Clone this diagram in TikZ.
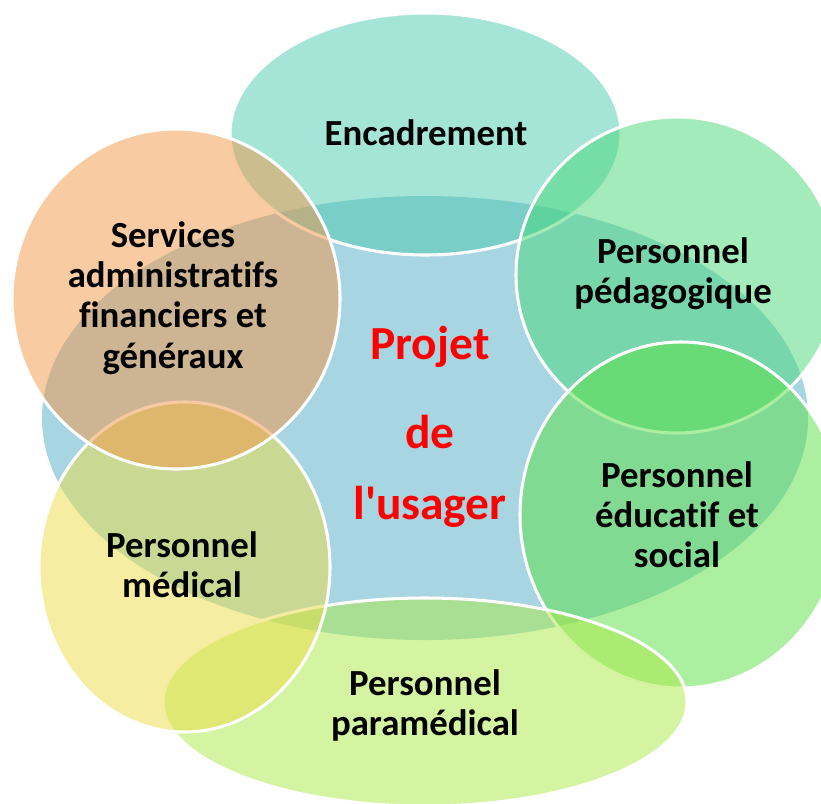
\documentclass[tikz,border=0pt]{standalone}
\usepackage{fontspec}
\setmainfont{Carlito}[Ligatures={NoCommon}]
\newcommand{\stackedlabel}[1]{\begin{tabular}[t]{@{}c@{}}#1\end{tabular}}
\definecolor{hubblue}{HTML}{A8D5E2}
\definecolor{encteal}{HTML}{4BCBAF}
\definecolor{pedgreen}{HTML}{47D777}
\definecolor{edugreen}{HTML}{5BDF41}
\definecolor{paralime}{HTML}{A9E945}
\definecolor{medyellow}{HTML}{EBDD45}
\definecolor{servorange}{HTML}{F39747}
\definecolor{titlered}{HTML}{FF0000}
\tikzset{
  petal/.style={draw=white, line width=2.6pt, fill opacity=0.5, draw opacity=1},
  lbl/.style={anchor=base, inner sep=0pt, text=black,
    font=\fontsize{31.4pt}{34.5pt}\selectfont\bfseries},
  hublbl/.style={anchor=base, inner sep=0pt, text=titlered,
    font=\fontsize{40.5pt}{61pt}\selectfont\bfseries}
}
\begin{document}
\begin{tikzpicture}[x=0.03cm, y=-0.03cm]
  \useasboundingbox (0,0) rectangle (821,803);
  \clip (0,0) rectangle (821,803);
  % central ellipse
  \fill[hubblue] (425,418) ellipse [x radius=11.49cm, y radius=6.66cm];
  % surrounding circles, drawn in stacking order
  \draw[petal, fill=encteal]    (425.5,134) ellipse [x radius=5.865cm, y radius=3.63cm];
  \draw[petal, fill=pedgreen]   (677,275)   ellipse [x radius=4.83cm,  y radius=4.74cm];
  \draw[petal, fill=edugreen]   (681,515)   ellipse [x radius=4.83cm,  y radius=5.19cm];
  \draw[petal, fill=paralime]   (425,702)   ellipse [x radius=7.86cm,  y radius=3.12cm];
  \draw[petal, fill=medyellow]  (184.5,567) ellipse [x radius=4.365cm, y radius=4.95cm];
  \draw[petal, fill=servorange] (176,299)   ellipse [x radius=4.92cm,  y radius=5.1cm];
  % labels
  \node[lbl] (enc)  at (426,145) {Encadrement};
  \node[lbl] (ped)  at (673,263) {\stackedlabel{Personnel\\ pédagogique}};
  \node[lbl] (edu)  at (677,487) {\stackedlabel{Personnel\\ éducatif et\\ social}};
  \node[lbl] (para) at (425,695) {\stackedlabel{Personnel\\ paramédical}};
  \node[lbl] (med)  at (182,557) {\stackedlabel{Personnel\\ médical}};
  \node[lbl] (serv) at (173,247) {\stackedlabel{Services\\ administratifs\\ financiers et\\ généraux}};
  \node[hublbl] (hub) at (430,359) {\stackedlabel{Projet\\[15pt] de\\ l\textquotesingle usager}};
\end{tikzpicture}
\end{document}
